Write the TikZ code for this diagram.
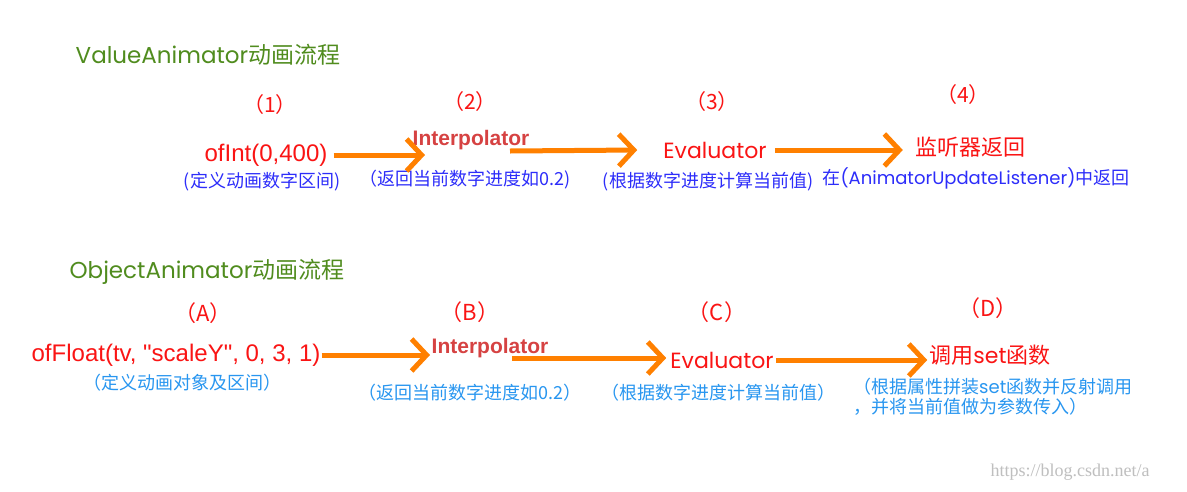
\documentclass[tikz,border=0pt]{standalone}
\usepackage{fontspec}
\setmainfont{Liberation Sans}[Ligatures=TeXOff]
\newfontfamily\cjk{Noto Sans CJK SC}
\newfontfamily\geo{Poppins}
\newfontfamily\wmark{Liberation Serif}
\usetikzlibrary{arrows.meta}

\definecolor{titlegreen}{RGB}{80,140,30}
\definecolor{stepred}{RGB}{250,20,20}
\definecolor{interpred}{RGB}{214,66,66}
\definecolor{noteblue}{RGB}{45,45,250}
\definecolor{noteazure}{RGB}{40,150,240}
\definecolor{flowor}{RGB}{255,128,0}

\tikzset{
  title/.style={text=titlegreen, inner sep=0, font=\fontsize{23}{27}\selectfont},
  stepno/.style={text=stepred, inner sep=0, font=\cjk\fontsize{21}{24}\selectfont},
  call/.style={text=stepred, inner sep=0, font=\fontsize{24}{28}\selectfont},
  interp/.style={text=interpred, inner sep=0, font=\bfseries\fontsize{21}{24}\selectfont},
  evalname/.style={text=stepred, inner sep=0, font=\geo\fontsize{22}{26}\selectfont},
  note/.style={text=noteblue, inner sep=0, font=\cjk\fontsize{18}{20}\selectfont},
  noteb/.style={note, text=noteazure},
  flow/.style={draw=flowor, line width=5pt, -{Straight Barb[length=15pt,width=32pt]}},
}

\begin{document}
\begin{tikzpicture}[x=1pt,y=-1pt]
\fill[white] (0,0) rectangle (1187,491);
\useasboundingbox (0,0) rectangle (1187,491);

% ValueAnimator
\node[title] (vtitle) at (208,55) {{\geo ValueAnimator}{\cjk 动画流程}};
\node[stepno] (step1) at (270,105) {（1）};
\node[stepno] (step2) at (470,102) {（2）};
\node[stepno] (step3) at (712,102) {（3）};
\node[stepno] (step4) at (963,95) {（4）};

\node[call] (ofint) at (266,155) {ofInt(0,400)};
\node[interp] (interpA) at (471,140) {Interpolator};
\node[evalname] (evalA) at (715,150) {Evaluator};
\node[call, font=\cjk\fontsize{22}{26}\selectfont] (listen) at (970,147) {监听器返回};

\node[note] (ofintnote) at (262,182) {(定义动画数字区间)};
\node[note] (interpAnote) at (465,180) {（返回当前数字进度如0.2)};
\node[note] (evalAnote) at (708,182) {(根据数字进度计算当前值)};
\node[note] (listennote) at (976,178) {在{\geo (AnimatorUpdateListener)}中返回};

\coordinate (tipA1) at (425,155);
\coordinate (tailA2) at (510,151);
\draw[flow] ([xshift=6pt]ofint.east) -- (tipA1);
\draw[flow] (tailA2) -- ([xshift=-26pt]evalA.west);
\draw[flow] ([xshift=8pt]evalA.east) -- ([xshift=-12pt]evalA.east -| listen.west);

% ObjectAnimator
\node[title] (otitle) at (207,272) {{\geo ObjectAnimator}{\cjk 动画流程}};
\node[stepno, font=\cjk\fontsize{22}{25}\selectfont] (stepA) at (203,313) {（A）};
\node[stepno, font=\cjk\fontsize{22}{25}\selectfont] (stepB) at (470,312) {（B）};
\node[stepno, font=\cjk\fontsize{22}{25}\selectfont] (stepC) at (717,312) {（C）};
\node[stepno, font=\cjk\fontsize{22}{25}\selectfont] (stepD) at (988,308) {（D）};

\node[call] (offloat) at (176,355) {ofFloat(tv, "scaleY", 0, 3, 1)};
\node[interp] (interpB) at (490,348) {Interpolator};
\node[evalname] (evalB) at (722,360) {Evaluator};
\node[call, font=\cjk\fontsize{22}{26}\selectfont] (setfn) at (990,355) {调用{\geo set}函数};

\node[noteb] (offloatnote) at (182,383) {（定义动画对象及区间）};
\node[noteb] (interpBnote) at (470,393) {（返回当前数字进度如0.2）};
\node[noteb] (evalBnote) at (718,393) {（根据数字进度计算当前值）};
\node[noteb, align=left, anchor=north west, font=\cjk\fontsize{18}{20}\selectfont]
  (setfnnote) at (853,378) {（根据属性拼装{\geo set}函数并反射调用\\，并将当前值做为参数传入）};

\coordinate (tipB1) at (430,355);
\coordinate (tailB2) at (512,358);
\draw[flow] ([xshift=1pt]offloat.east) -- (tipB1);
\draw[flow] (tailB2) -- ([xshift=-4pt]tailB2 -| evalB.west);
\draw[flow] ([xshift=2pt]evalB.east) -- ([xshift=-2pt]evalB.east -| setfn.west);

\node[text=black!25, inner sep=0, font=\wmark\fontsize{18}{20}\selectfont] (wmark) at (1070,472) {https://blog.csdn.net/a};
\end{tikzpicture}
\end{document}
